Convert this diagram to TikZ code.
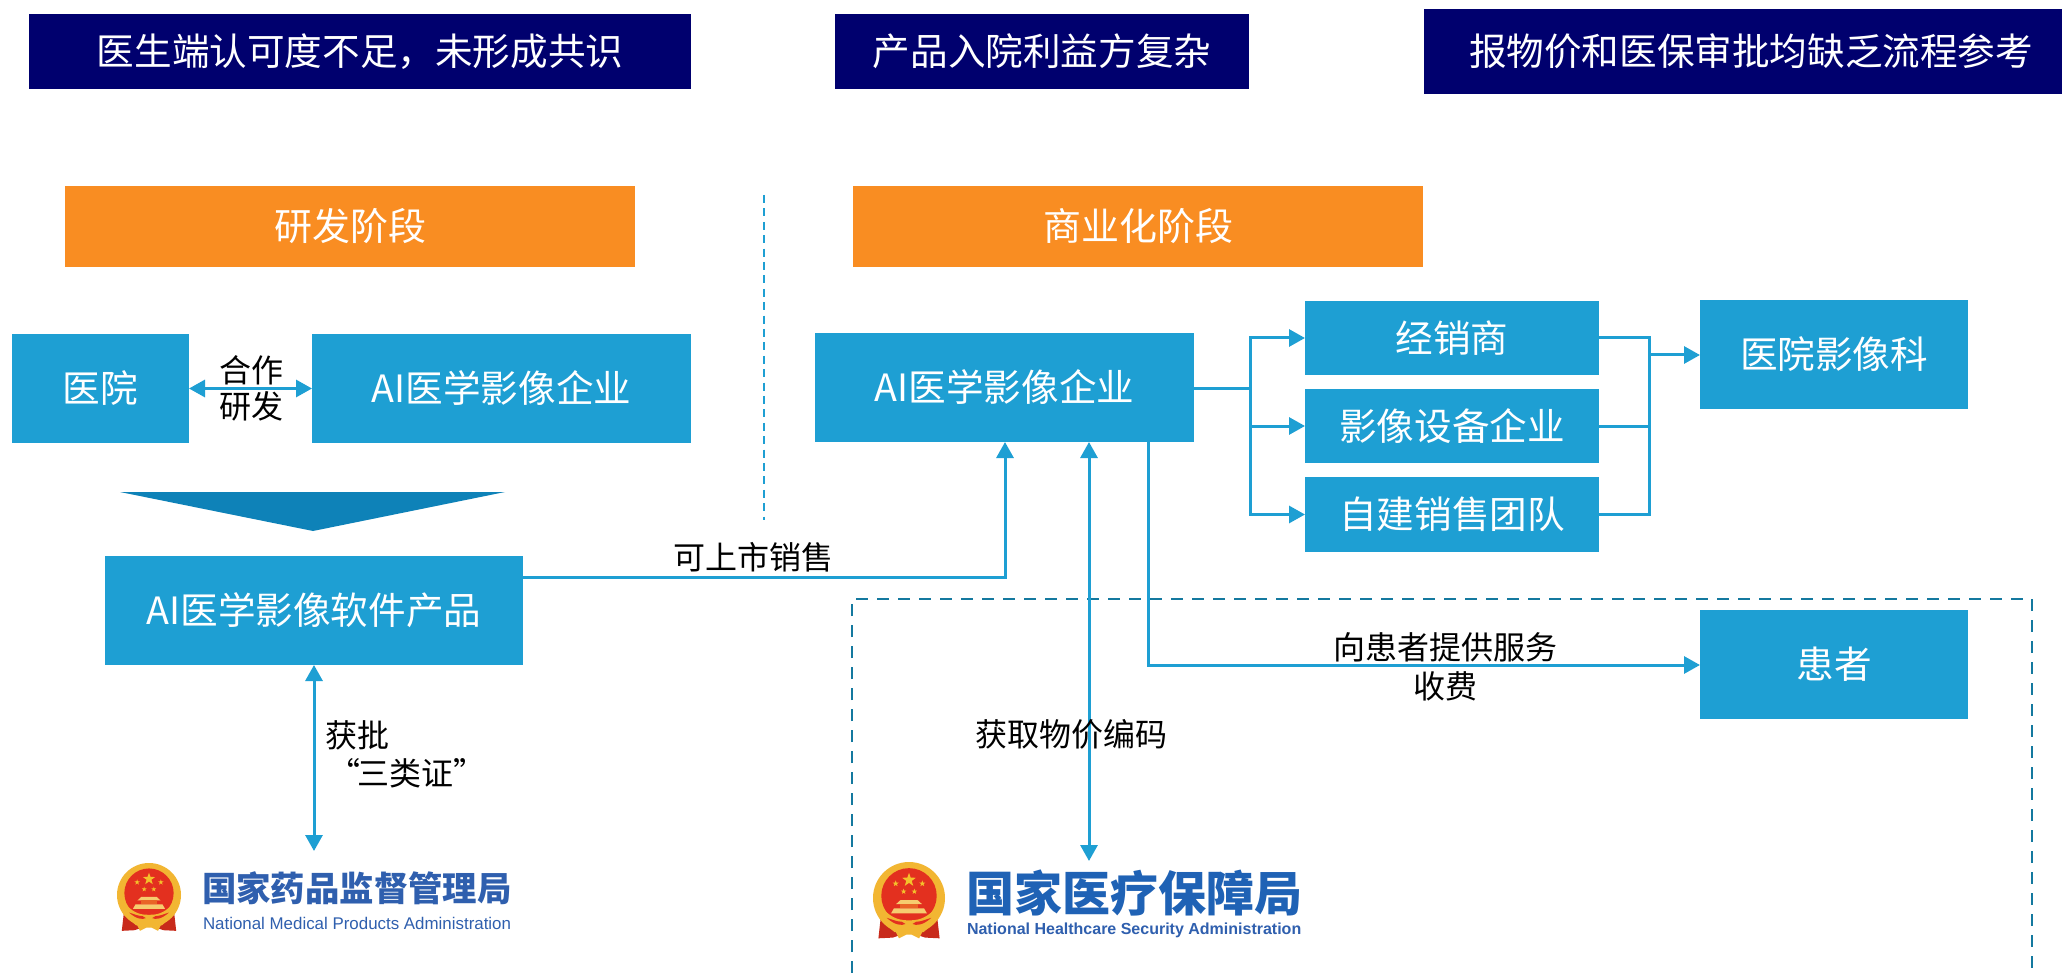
\documentclass[tikz,border=0pt]{standalone}
\usepackage{fontspec}
\setmainfont{Noto Sans CJK SC}
\newfontfamily\latinlogo{Liberation Sans}
\usetikzlibrary{arrows.meta,calc}
\definecolor{boxblue}{HTML}{1E9FD3}
\definecolor{navybar}{HTML}{00006E}
\definecolor{orangebar}{HTML}{F98D22}
\definecolor{wedge}{HTML}{0E82B8}
\definecolor{dashteal}{HTML}{14799F}
\definecolor{logoblue}{HTML}{2F5FAE}
\definecolor{logoblueb}{HTML}{1F62B5}
\definecolor{emblemgold}{HTML}{F2B632}
\definecolor{emblemred}{HTML}{E3301F}
\newcommand{\mkbox}[7]{% style, name, x1, y1, x2, y2, text
  \node[#1, minimum width={(#5-#3)*0.5pt}, minimum height={(#6-#4)*0.5pt}] (#2) at ({(#3+#5)/2},{(#4+#6)/2}) {#7};}
\newcommand{\nationalemblem}[3]{% cx, cy, r
  \begin{scope}[shift={(#1,#2)},x=#3*0.5pt,y=-#3*0.5pt]
    % ribbons
    \fill[emblemred!88!black] (-0.78,0.5) -- (-0.85,1.12) -- (-0.45,1.1) -- (0,0.95) -- (0.45,1.1) -- (0.85,1.12) -- (0.78,0.5) -- cycle;
    % ring and disc
    \fill[emblemgold] (0,0) circle (1);
    \fill[emblemred] (0,-0.06) circle (0.77);
    % gate
    \fill[emblemgold!70!white] (-0.24,0.06) -- (0.24,0.06) -- (0.36,0.17) -- (-0.36,0.17) -- cycle;
    \fill[emblemred!60!emblemgold] (-0.26,0.17) rectangle (0.26,0.29);
    \fill[emblemgold!70!white] (-0.42,0.29) -- (0.42,0.29) -- (0.5,0.43) -- (-0.5,0.43) -- cycle;
    % wreath band inside the ring
    \fill[emblemgold] (-0.72,0.3) .. controls (-0.45,0.6) and (-0.2,0.62) .. (0,0.62) .. controls (0.2,0.62) and (0.45,0.6) .. (0.72,0.3) -- (0.8,0.6) -- (0.4,0.95) -- (-0.4,0.95) -- (-0.8,0.6) -- cycle;
    \fill[emblemred] (-0.62,0.55) .. controls (-0.4,0.75) and (-0.2,0.78) .. (-0.1,0.72) -- (-0.2,0.66) .. controls (-0.35,0.66) and (-0.5,0.58) .. (-0.62,0.55) -- cycle;
    \fill[emblemred] (0.62,0.55) .. controls (0.4,0.75) and (0.2,0.78) .. (0.1,0.72) -- (0.2,0.66) .. controls (0.35,0.66) and (0.5,0.58) .. (0.62,0.55) -- cycle;
    % knot at the foot
    \fill[emblemgold] (-0.38,0.92) -- (0.38,0.92) -- (0.28,1.12) -- (0.08,1.02) -- (-0.08,1.02) -- (-0.28,1.12) -- cycle;
    % stars
    \foreach \sx/\sy/\sr in {0/-0.5/0.2,-0.37/-0.4/0.09,0.37/-0.4/0.09,-0.15/-0.18/0.08,0.15/-0.18/0.08}{
      \fill[emblemgold!85!yellow] ($(\sx,\sy)+(270:\sr)$) -- ($(\sx,\sy)+(306:\sr*0.4)$) -- ($(\sx,\sy)+(342:\sr)$) -- ($(\sx,\sy)+(18:\sr*0.4)$) -- ($(\sx,\sy)+(54:\sr)$) -- ($(\sx,\sy)+(90:\sr*0.4)$) -- ($(\sx,\sy)+(126:\sr)$) -- ($(\sx,\sy)+(162:\sr*0.4)$) -- ($(\sx,\sy)+(198:\sr)$) -- ($(\sx,\sy)+(234:\sr*0.4)$) -- cycle;
    }
  \end{scope}}
\tikzset{
  x=0.5pt,y=-0.5pt,
  flat/.style={inner sep=0pt,outer sep=0pt,align=center,text=white},
  bluebox/.style={flat,fill=boxblue,font=\fontsize{18.8}{22}\selectfont},
  navybox/.style={flat,fill=navybar,font=\fontsize{18.8}{22}\selectfont},
  orangebox/.style={flat,fill=orangebar,font=\fontsize{19}{22}\selectfont},
  lbl/.style={inner sep=0pt,outer sep=0pt,align=center,text=black,font=\fontsize{16}{19}\selectfont},
  conn/.style={draw=boxblue,line width=1.5pt},
  arr/.style={conn,-{Triangle[length=8pt,width=8.5pt]}},
  dblarr/.style={conn,{Triangle[length=8pt,width=8.5pt]}-{Triangle[length=8pt,width=8.5pt]}},
}
\begin{document}
\begin{tikzpicture}
\useasboundingbox (0,0) rectangle (2062,973);
\fill[white] (0,0) rectangle (2062,973);

% top bars
\mkbox{navybox}{top1}{29}{14}{691}{89}{医生端认可度不足^^^^ff0c未形成共识}
\mkbox{navybox}{top2}{835}{14}{1249}{89}{产品入院利益方复杂}
\mkbox{navybox}{top3}{1424}{9}{2062}{94}{\hspace*{8pt}报物价和医保审批均缺乏流程参考}

% phase bars
\mkbox{orangebox}{phase1}{65}{186}{635}{267}{研发阶段}
\mkbox{orangebox}{phase2}{853}{186}{1423}{267}{商业化阶段}

% dashed divider and frame
\coordinate (divtop) at (764,195);
\coordinate (divbot) at (764,520);
\draw[boxblue,line width=1pt,dash pattern=on 4pt off 2.7pt] (divtop) -- (divbot);
\coordinate (fa) at (852,973);
\coordinate (fb) at (852,599);
\coordinate (fc) at (2032,599);
\coordinate (fd) at (2032,973);
\draw[dashteal,line width=1.2pt,dash pattern=on 6pt off 4.5pt] (fa) -- (fb) -- (fc) -- (fd);

% R&D boxes
\mkbox{bluebox}{hosp}{12}{334}{189}{443}{医院}
\mkbox{bluebox}{ai1}{312}{334}{691}{443}{AI医学影像企业}
\fill[wedge] (120,492) -- (505,492) -- (313,531) -- cycle;
\mkbox{bluebox}{prod}{105}{556}{523}{665}{AI医学影像软件产品}

% commercial boxes
\mkbox{bluebox}{ai2}{815}{333}{1194}{442}{AI医学影像企业}
\mkbox{bluebox}{dist}{1305}{301}{1599}{375}{经销商}
\mkbox{bluebox}{equip}{1305}{389}{1599}{463}{影像设备企业}
\mkbox{bluebox}{team}{1305}{477}{1599}{552}{自建销售团队}
\mkbox{bluebox}{rad}{1700}{300}{1968}{409}{医院影像科}
\mkbox{bluebox}{patient}{1700}{610}{1968}{719}{患者}

% logos
\nationalemblem{149}{895}{32}
\node[inner sep=0pt,outer sep=0pt,anchor=west,text=logoblue,font=\fontsize{17.2}{20}\selectfont\bfseries] (nmpacn) at (202,888) {国家药品监督管理局};
\node[inner sep=0pt,outer sep=0pt,anchor=west,text=logoblue,font=\latinlogo\fontsize{8.45}{10}\selectfont] (nmpaen) at (203,923) {National Medical Products Administration};
\nationalemblem{909}{898}{36}
\node[inner sep=0pt,outer sep=0pt,anchor=west,text=logoblueb,font=\fontsize{24}{28}\selectfont\bfseries] (nhsacn) at (966,893) {国家医疗保障局};
\node[inner sep=0pt,outer sep=0pt,anchor=west,text=logoblue,font=\latinlogo\fontsize{8}{10}\selectfont\bfseries] (nhsaen) at (967,930) {National Healthcare Security Administration};

% connectors
\draw[dblarr] (hosp.east) -- (ai1.west);
\node[lbl] (lblcoop) at (251,388) {合作\\[-1pt]研发};

\coordinate (prodout) at (prod.east |- 0,577);
\coordinate (ai2in) at (1005,442);
\draw[arr] (prodout) -| (ai2in);
\node[lbl] (lblsale) at (753,557) {可上市销售};

\coordinate (ai2reg) at (1089,442);
\coordinate (nhsatop) at (1089,861);
\draw[dblarr] (ai2reg) -- (nhsatop);
\node[lbl] (lblcode) at (1071,734) {获取物价编码};

\coordinate (ai2pat) at (1148,442);
\coordinate (patin) at (patient.west |- 0,665);
\draw[arr] (ai2pat) |- (patin);
\node[lbl] (lblpat) at (1445,647) {向患者提供服务};
\node[lbl] (lblfee) at (1445,686) {收费};

\coordinate (prodreg) at (314,665);
\coordinate (nmpatop) at (314,851);
\draw[dblarr] (prodreg) -- (nmpatop);
\node[lbl,anchor=west] (lblok) at (325,735) {获批};
\node[lbl,anchor=west] (lblcert) at (328,773) {“\hspace{-1.5pt}三类证”};

% fork out of AI company
\coordinate (forkout) at (ai2.east |- 0,388);
\coordinate (forkj) at (1250,388);
\draw[conn] (forkout) -- (forkj);
\draw[arr] (forkj) |- (dist.west);
\draw[arr] (forkj) |- (equip.west);
\draw[arr] (forkj) |- (team.west);

% merge into radiology
\coordinate (mergej) at (1649,355);
\draw[conn] (dist.east) -| (mergej);
\draw[conn] (equip.east) -| (mergej);
\draw[conn] (team.east) -| (mergej);
\draw[arr] (mergej) -- (rad.west |- mergej);
\end{tikzpicture}
\end{document}
